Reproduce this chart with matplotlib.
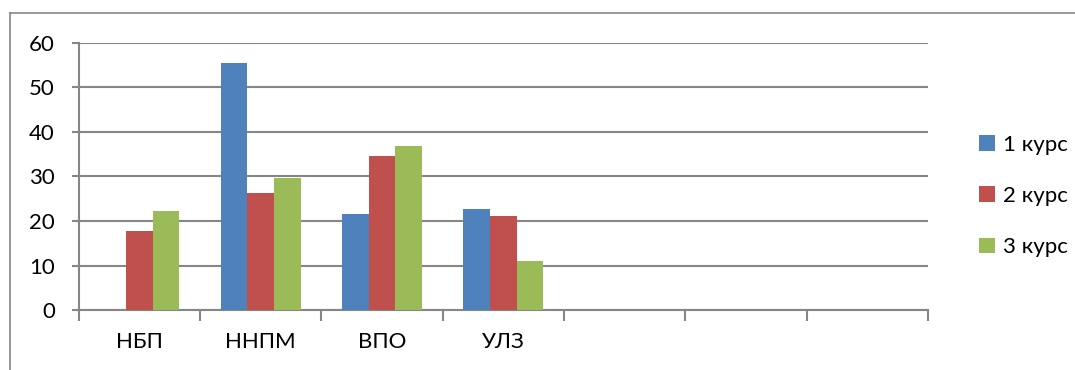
import numpy as np
import matplotlib
matplotlib.use('Agg')
import matplotlib.pyplot as plt
from matplotlib.lines import Line2D

plt.rcParams['font.family'] = ['Lato', 'DejaVu Sans']

# 7 category slots, only the first four are filled
categories = ['НБП', 'ННПМ', 'ВПО', 'УЛЗ', '', '', '']
series_names = ['1 курс', '2 курс', '3 курс']
kurs1 = [0, 55.6, 21.5, 22.7]
kurs2 = [17.7, 26.3, 34.7, 21.2]
kurs3 = [22.2, 29.6, 36.9, 11.0]
colors = ['#4F81BD', '#C0504D', '#9BBB59']
grid_col = '#868686'

fig = plt.figure(figsize=(10.75, 3.7), dpi=100)
ax = fig.add_axes([0.0731, 0.162, 0.790, 0.722])

n = len(categories)
bw = 0.22
for i, (vals, name, c) in enumerate(zip([kurs1, kurs2, kurs3], series_names, colors)):
    x = np.arange(len(vals)) + (i - 1) * bw
    ax.bar(x, vals, width=bw, color=c, label=name, zorder=3)

ax.set_xlim(-0.5, n - 0.5)
ax.set_ylim(0, 60)
ax.set_yticks(range(0, 61, 10))
ax.yaxis.grid(True, color=grid_col, linewidth=1.5, zorder=0)

# category boundaries as major ticks, names on minor ticks at the centres
ax.set_xticks(np.arange(n + 1) - 0.5)
ax.set_xticklabels([])
ax.set_xticks(np.arange(n), minor=True)
ax.set_xticklabels(categories, minor=True)
ax.tick_params(axis='x', which='major', length=8, width=1.5, color=grid_col, direction='out')
ax.tick_params(axis='x', which='minor', length=0, pad=16, labelsize=16)
ax.tick_params(axis='y', length=5, width=1.5, color=grid_col, pad=12, labelsize=16)

for s in ['top', 'right']:
    ax.spines[s].set_visible(False)
for s in ['left', 'bottom']:
    ax.spines[s].set_color(grid_col)
    ax.spines[s].set_linewidth(1.5)

fig.legend(loc='center left', bbox_to_anchor=(968 / 1075, 0.47), frameon=False,
           fontsize=16, handlelength=0.72, handleheight=0.72, handletextpad=0.35,
           labelspacing=1.4, borderpad=0)

# outer chart frame
x0 = 10 / 1075
y0 = 1 - 13 / 370
fig.add_artist(Line2D([x0, x0], [0, y0], color=grid_col, linewidth=1.2))
fig.add_artist(Line2D([x0, 1], [y0, y0], color=grid_col, linewidth=1.2))

fig.savefig('out.png', dpi=100)
